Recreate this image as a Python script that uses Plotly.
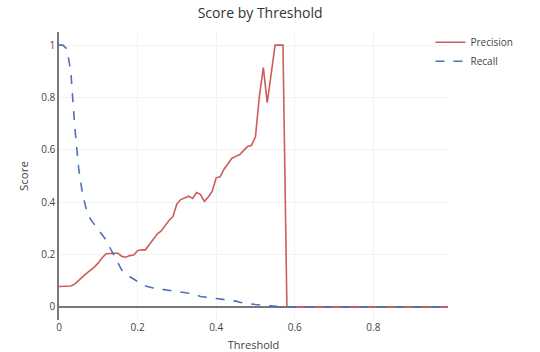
import plotly.graph_objects as go

thresholds = [round(i * 0.01, 2) for i in range(100)]

precision_head = [
    0.078, 0.078, 0.078, 0.080, 0.087, 0.103, 0.115, 0.128, 0.140, 0.152,
    0.168, 0.188, 0.203, 0.205, 0.205, 0.205, 0.193, 0.190, 0.196, 0.198,
    0.215, 0.218, 0.218, 0.238, 0.258, 0.278, 0.290, 0.310, 0.330, 0.345,
    0.393, 0.410, 0.415, 0.423, 0.414, 0.437, 0.430, 0.403, 0.420, 0.442,
    0.493, 0.497, 0.526, 0.548, 0.568, 0.575, 0.582, 0.598, 0.613, 0.617,
    0.650, 0.805, 0.914, 0.780, 0.890, 1.000, 1.000, 1.000,
]
precision = precision_head + [0.0] * (100 - len(precision_head))

recall_head = [
    1.000, 1.000, 0.985, 0.900, 0.690, 0.530, 0.430, 0.370, 0.335, 0.315,
    0.295, 0.275, 0.255, 0.225, 0.195, 0.165, 0.140, 0.125, 0.115, 0.105,
    0.095, 0.088, 0.080, 0.075, 0.072, 0.070, 0.068, 0.066, 0.064, 0.062,
    0.060, 0.057, 0.055, 0.053, 0.050, 0.045, 0.040, 0.038, 0.035, 0.033,
    0.032, 0.030, 0.029, 0.027, 0.025, 0.022, 0.018, 0.015, 0.013, 0.011,
    0.009, 0.007, 0.005, 0.005, 0.004, 0.002,
]
recall = recall_head + [0.0] * (100 - len(recall_head))

FONT = "Open Sans"
fig = go.Figure()
fig.add_trace(go.Scatter(x=thresholds, y=precision, mode="lines", name="Precision",
                         line=dict(color="#cd5c5c", width=1.6)))
fig.add_trace(go.Scatter(x=thresholds, y=recall, mode="lines", name="Recall",
                         line=dict(color="#4f6fb8", width=1.6, dash="dash")))

fig.update_layout(
    width=540, height=352, autosize=False,
    margin=dict(l=59, r=92, t=32, b=32),
    paper_bgcolor="white", plot_bgcolor="white",
    font=dict(family=FONT, color="#444", size=10),
    title=dict(text="Score by Threshold", font=dict(size=14, color="#333"),
               x=0.517, xref="paper", xanchor="center", y=0.962, yref="container", yanchor="middle"),
    legend=dict(x=0.955, y=1.015, xanchor="left", yanchor="top", font=dict(size=10),
                bgcolor="rgba(0,0,0,0)"),
    xaxis=dict(title=dict(text="Threshold", font=dict(size=11), standoff=9),
               automargin=False, range=[0, 0.99],
               tickvals=[0, 0.2, 0.4, 0.6, 0.8], ticktext=["0", "0.2", "0.4", "0.6", "0.8"],
               showgrid=True, gridcolor="#f2f2f2", zeroline=True, zerolinecolor="#777",
               zerolinewidth=1.5, showline=False, tickfont=dict(size=10)),
    yaxis=dict(title=dict(text="Score", font=dict(size=11.5), standoff=10),
               automargin=False, range=[-0.05, 1.05],
               tickvals=[0, 0.2, 0.4, 0.6, 0.8, 1], ticktext=["0", "0.2", "0.4", "0.6", "0.8", "1"],
               showgrid=True, gridcolor="#f2f2f2", zeroline=True, zerolinecolor="#777",
               zerolinewidth=1.5, showline=True, linecolor="#777", linewidth=1.5,
               tickfont=dict(size=10)),
)

fig.write_html("out.html")
